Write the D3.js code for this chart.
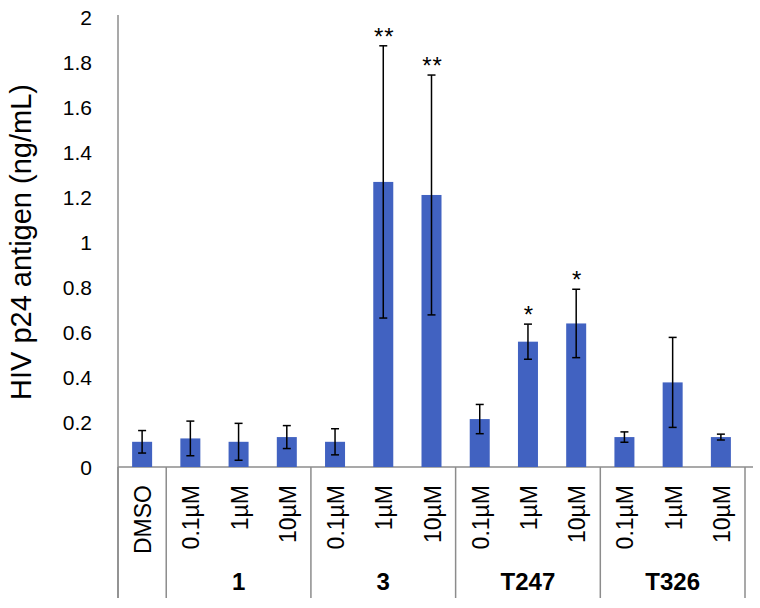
<!DOCTYPE html>
<html>
<head>
<meta charset="utf-8">
<script src="https://cdn.jsdelivr.net/npm/d3@7"></script>
<style>
  body { margin: 0; background: #fff; }
  text { font-family: Arial, "Liberation Sans", sans-serif; fill: #000; }
  .axis path, .axis line { stroke: #8c8c8c; }
</style>
</head>
<body>
<div id="chart"></div>
<script>
// data
let categories = ["DMSO", "0.1µM", "1µM", "10µM", "0.1µM", "1µM", "10µM",
                  "0.1µM", "1µM", "10µM", "0.1µM", "1µM", "10µM"];
let groupNames = ["", "1", "3", "T247", "T326"];
let groupSizes = [1, 3, 3, 3, 3];
let means  = [0.112, 0.127, 0.112, 0.133, 0.112, 1.267, 1.209, 0.213, 0.557, 0.638, 0.133, 0.376, 0.133];
let errors = [0.050, 0.077, 0.082, 0.051, 0.058, 0.605, 0.533, 0.065, 0.078, 0.152, 0.023, 0.200, 0.013];
let stars  = ["", "", "", "", "", "**", "**", "", "*", "*", "", "", ""];
let yTicks = [0, 0.2, 0.4, 0.6, 0.8, 1, 1.2, 1.4, 1.6, 1.8, 2];

const W = 760, H = 608;
const plotLeft = 118, plotRight = 745, plotTop = 17, baseY = 467, plotBottom = 598;

let svg = d3.select("#chart").append("svg")
    .attr("width", W)
    .attr("height", H);

let idx = d3.range(categories.length);

let x = d3.scaleBand()
    .domain(idx)
    .range([plotLeft, plotRight])
    .paddingInner(0)
    .paddingOuter(0);

let y = d3.scaleLinear()
    .domain([0, 2])
    .range([baseY, plotTop]);

// y axis
let yAxis = svg.append("g")
    .attr("class", "axis")
    .attr("transform", "translate(" + plotLeft + ",0)")
    .call(d3.axisLeft(y).tickValues(yTicks).tickSize(0).tickPadding(26)
        .tickFormat(d => String(d)));
yAxis.select(".domain").remove();
yAxis.selectAll("text")
    .style("font-size", "21px")
    .attr("dy", "0.35em");

// axis lines
svg.append("line")
    .attr("x1", plotLeft).attr("x2", plotLeft)
    .attr("y1", plotTop - 2).attr("y2", plotBottom)
    .style("stroke", "#8c8c8c").style("stroke-width", 1.5);
svg.append("line")
    .attr("x1", plotLeft).attr("x2", 753)
    .attr("y1", baseY).attr("y2", baseY)
    .style("stroke", "#8c8c8c").style("stroke-width", 1.5);

// group dividers
let cum = [0];
groupSizes.forEach((s, i) => cum.push(cum[i] + s));
svg.selectAll(".divider")
    .data(cum)
    .enter().append("line")
    .attr("class", "divider")
    .attr("x1", d => d < categories.length ? x(d) : x.range()[1])
    .attr("x2", d => d < categories.length ? x(d) : x.range()[1])
    .attr("y1", baseY)
    .attr("y2", plotBottom)
    .style("stroke", "#8c8c8c")
    .style("stroke-width", 1.5);

// bars
let barW = 20;
svg.selectAll(".bar")
    .data(idx)
    .enter().append("rect")
    .attr("class", "bar")
    .attr("x", i => x(i) + x.bandwidth() / 2 - barW / 2)
    .attr("y", i => y(means[i]))
    .attr("width", barW)
    .attr("height", i => y(0) - y(means[i]))
    .style("fill", "#4162c1");

// error bars
let eb = svg.selectAll(".err")
    .data(idx)
    .enter().append("g")
    .attr("class", "err")
    .style("stroke", "#000")
    .style("stroke-width", 1.5);
eb.append("line")
    .attr("x1", i => x(i) + x.bandwidth() / 2)
    .attr("x2", i => x(i) + x.bandwidth() / 2)
    .attr("y1", i => y(means[i] + errors[i]))
    .attr("y2", i => y(means[i] - errors[i]));
[1, -1].forEach(sign => {
    eb.append("line")
        .attr("x1", i => x(i) + x.bandwidth() / 2 - 4)
        .attr("x2", i => x(i) + x.bandwidth() / 2 + 4)
        .attr("y1", i => y(means[i] + sign * errors[i]))
        .attr("y2", i => y(means[i] + sign * errors[i]));
});

// significance stars
svg.selectAll(".star")
    .data(idx.filter(i => stars[i]))
    .enter().append("text")
    .attr("class", "star")
    .attr("x", i => x(i) + x.bandwidth() / 2 + 1)
    .attr("y", i => y(means[i] + errors[i]) - 1)
    .attr("text-anchor", "middle")
    .style("font-size", "24px")
    .style("letter-spacing", "1px")
    .text(i => stars[i]);

// category labels (rotated)
svg.selectAll(".cat")
    .data(idx)
    .enter().append("text")
    .attr("class", "cat")
    .attr("transform", i => "translate(" + (x(i) + x.bandwidth() / 2 + 1) + "," + 485 + ") rotate(-90)")
    .attr("text-anchor", "end")
    .attr("dy", "0.35em")
    .style("font-size", "23px")
    .text(i => categories[i]);

// group labels
svg.selectAll(".grp")
    .data(groupNames.map((g, i) => ({ name: g, start: cum[i], size: groupSizes[i] })).filter(d => d.name))
    .enter().append("text")
    .attr("class", "grp")
    .attr("x", d => x(d.start) + d.size * x.bandwidth() / 2)
    .attr("y", 590)
    .attr("text-anchor", "middle")
    .style("font-size", "24px")
    .style("font-weight", "bold")
    .text(d => d.name);

// y axis title
svg.append("text")
    .attr("transform", "translate(31," + 242 + ") rotate(-90)")
    .attr("text-anchor", "middle")
    .style("font-size", "29px")
    .text("HIV p24 antigen (ng/mL)");
</script>
</body>
</html>
